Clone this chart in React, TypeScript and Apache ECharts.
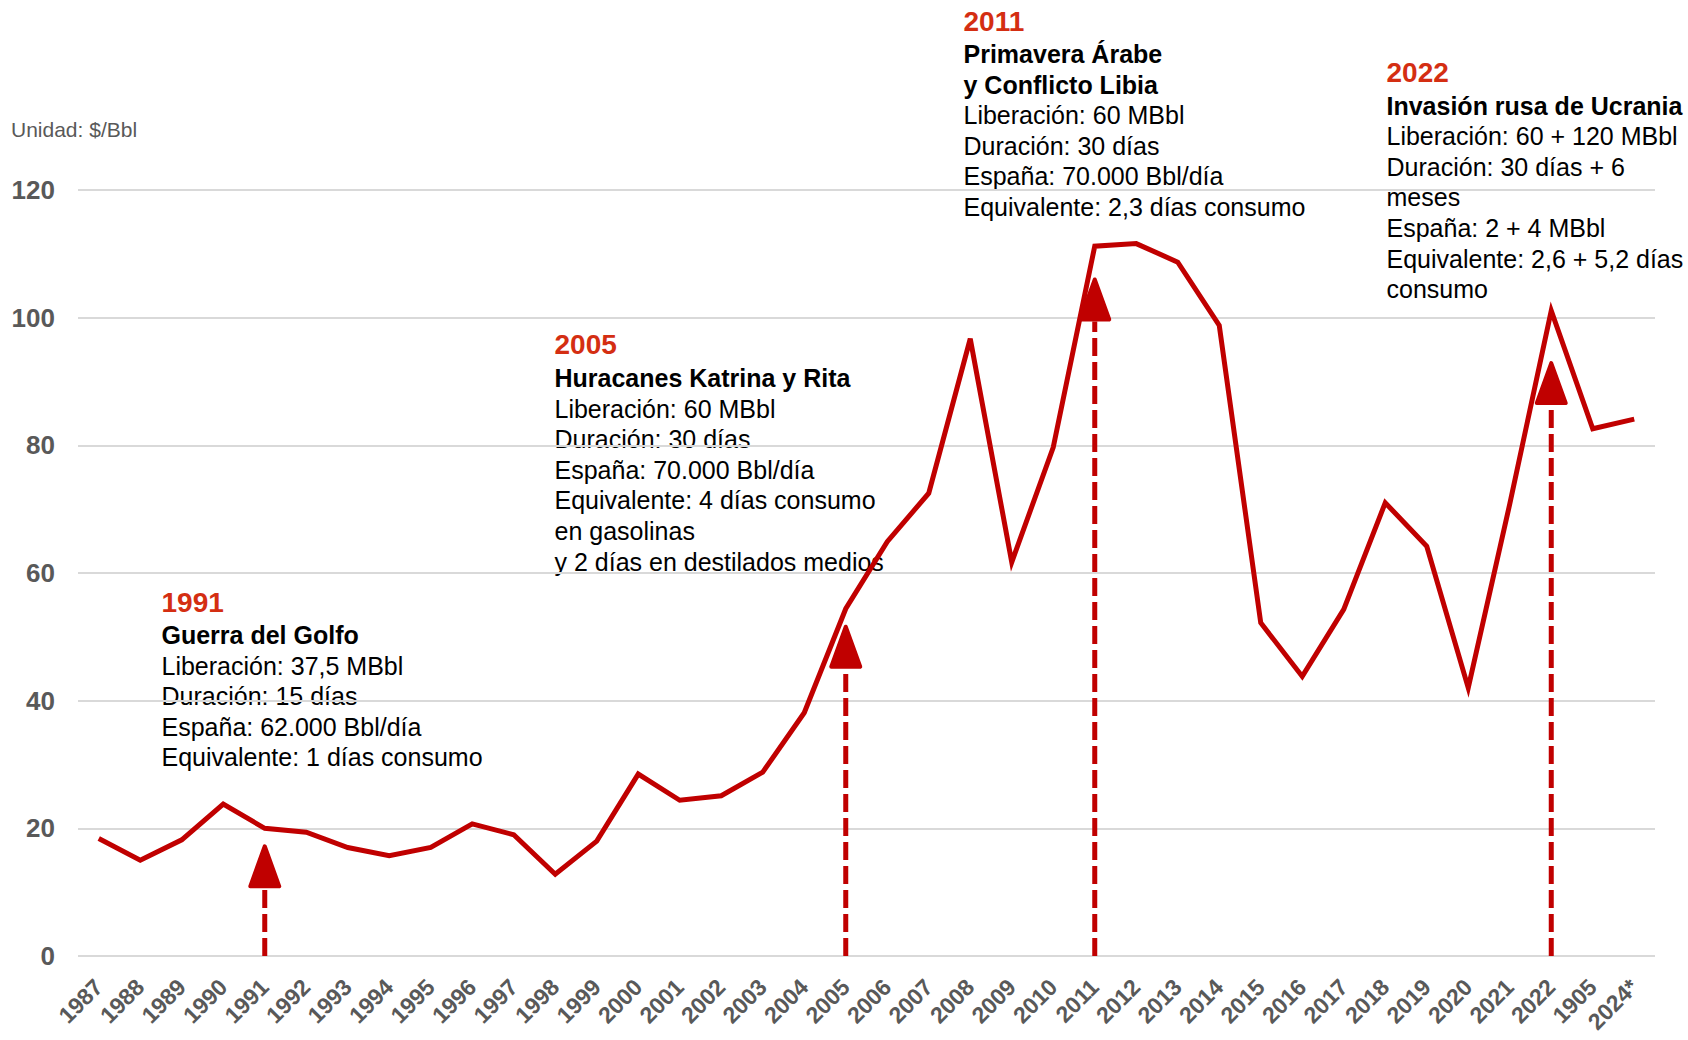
import React, { useEffect, useRef } from "react";
import * as echarts from "echarts";

const categories = [
  "1987", "1988", "1989", "1990", "1991", "1992", "1993", "1994", "1995", "1996",
  "1997", "1998", "1999", "2000", "2001", "2002", "2003", "2004", "2005", "2006",
  "2007", "2008", "2009", "2010", "2011", "2012", "2013", "2014", "2015", "2016",
  "2017", "2018", "2019", "2020", "2021", "2022", "1905", "2024*",
];

const brentPrice = [
  18.4, 15.0, 18.2, 23.8, 20.0, 19.4, 17.0, 15.7, 17.0, 20.7,
  19.0, 12.8, 18.0, 28.5, 24.4, 25.1, 28.8, 38.1, 54.4, 64.9,
  72.5, 96.7, 61.7, 79.7, 111.2, 111.6, 108.7, 98.8, 52.2, 43.8,
  54.3, 71.0, 64.2, 42.0, 70.8, 101.1, 82.6, 84.1,
];

// arrows: category, tip value, arrow-head base value
const arrowCategories = ["1991", "2005", "2011", "2022"];
const arrowTips = [17.5, 51.9, 106.3, 93.2];
const arrowBases = [10.6, 45.0, 99.4, 86.3];

const yTicks = { min: 0, max: 120, interval: 20 };

const annotation1991 = ["1991", "Guerra del Golfo", "Liberación: 37,5 MBbl", "Duración: 15 días", "España: 62.000 Bbl/día", "Equivalente: 1 días consumo"];
const annotation2005 = ["2005", "Huracanes Katrina y Rita", "Liberación: 60 MBbl", "Duración: 30 días", "España: 70.000 Bbl/día", "Equivalente: 4 días consumo", "en gasolinas", "y 2 días en destilados medios"];
const annotation2011 = ["2011", "Primavera Árabe", "y Conflicto Libia", "Liberación: 60 MBbl", "Duración: 30 días", "España: 70.000 Bbl/día", "Equivalente: 2,3 días consumo"];
const annotation2022 = ["2022", "Invasión rusa de Ucrania", "Liberación: 60 + 120 MBbl", "Duración: 30 días + 6", "meses", "España: 2 + 4 MBbl", "Equivalente: 2,6 + 5,2 días", "consumo"];

const FONT = "'Liberation Sans', Arial, Helvetica, sans-serif";
const RED = "#C00000";
const YEAR_RED = "#D42E12";

function block(lines: string[], boldCount: number, x: number, yYear: number, yTitle: number, step: number) {
  const els: any[] = [];
  lines.forEach((t, i) => {
    const y = i === 0 ? yYear : yTitle + (i - 1) * step;
    els.push({
      type: "text",
      x,
      y,
      silent: true,
      style: {
        text: t,
        fill: i === 0 ? YEAR_RED : "#000000",
        font: i === 0 ? `bold 28px ${FONT}` : i <= boldCount ? `bold 25px ${FONT}` : `25px ${FONT}`,
        textVerticalAlign: "middle",
        textAlign: "left",
      },
    });
  });
  return els;
}

export default function App() {
  const ref = useRef<HTMLDivElement>(null);
  useEffect(() => {
    document.body.style.margin = "0";
    if (!ref.current) return;
    const chart = echarts.init(ref.current, null, { renderer: "svg" });
    const arrowData = arrowCategories.map((c, i) => [c, arrowTips[i], arrowBases[i]]);
    const step = 30.6;
    chart.setOption({
      animation: false,
      backgroundColor: "#ffffff",
      grid: { left: 78, right: 33, top: 190, bottom: 84, containLabel: false, outerBoundsMode: "none" },
      xAxis: {
        type: "category",
        data: categories,
        boundaryGap: true,
        axisLine: { show: false },
        axisTick: { show: false },
        axisLabel: {
          rotate: 45,
          interval: 0,
          margin: 27,
          color: "#595959",
          fontWeight: "bold",
          fontSize: 23,
          fontFamily: FONT,
        },
      },
      yAxis: {
        type: "value",
        min: yTicks.min,
        max: yTicks.max,
        interval: yTicks.interval,
        axisLine: { show: false },
        axisTick: { show: false },
        splitLine: { lineStyle: { color: "#D9D9D9", width: 2 } },
        axisLabel: {
          margin: 23,
          color: "#595959",
          fontWeight: "bold",
          fontSize: 26,
          fontFamily: FONT,
        },
      },
      series: [
        {
          type: "line",
          data: brentPrice,
          symbol: "none",
          lineStyle: { color: RED, width: 5, join: "miter" },
          z: 3,
        },
        {
          type: "custom",
          data: arrowData,
          encode: { x: 0, y: 1 },
          z: 4,
          renderItem: (params: any, api: any) => {
            const cat = api.value(0);
            const p0 = api.coord([cat, 0]);
            const tip = api.coord([cat, api.value(1)]);
            const base = api.coord([cat, api.value(2)]);
            return {
              type: "group",
              children: [
                {
                  type: "line",
                  shape: { x1: p0[0], y1: p0[1], x2: base[0], y2: base[1] },
                  style: { stroke: RED, lineWidth: 5, lineDash: [18, 6] },
                },
                {
                  type: "polygon",
                  shape: { points: [[tip[0], tip[1] + 2], [tip[0] + 14.5, base[1] - 2], [tip[0] - 14.5, base[1] - 2]] },
                  style: { fill: RED, stroke: RED, lineWidth: 4, lineJoin: "round" },
                },
              ],
            };
          },
        },
      ],
      graphic: [
        {
          type: "text",
          x: 11,
          y: 129,
          style: {
            text: "Unidad: $/Bbl",
            fill: "#595959",
            font: `21px ${FONT}`,
            textVerticalAlign: "middle",
          },
        },
        ...block(annotation1991, 1, 161.5, 602, 635, step),
        ...block(annotation2005, 1, 554.5, 344.5, 378, step),
        ...block(annotation2011, 2, 963.5, 21.5, 54, step),
        ...block(annotation2022, 1, 1386.5, 72, 105.5, step),
      ],
    });
    return () => chart.dispose();
  }, []);
  return <div ref={ref} style={{ width: 1688, height: 1040 }} />;
}
